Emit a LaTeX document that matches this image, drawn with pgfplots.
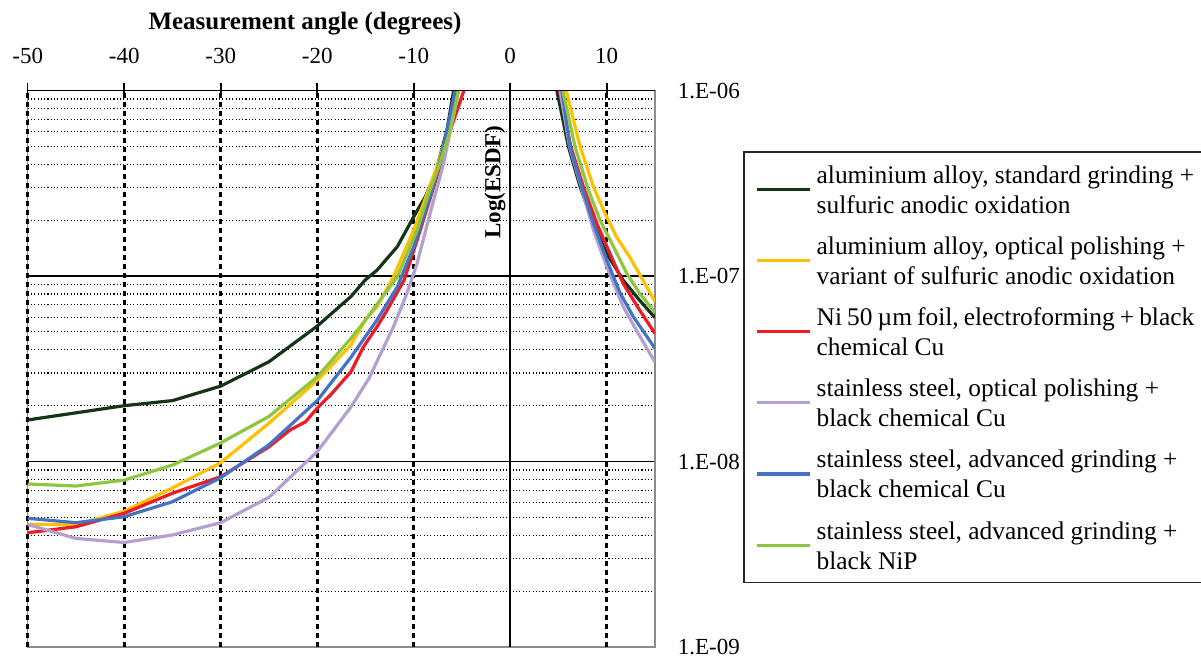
\documentclass[border=0pt]{standalone}
\usepackage{fontspec}
\setmainfont{Liberation Serif}
\usepackage{pgfplots}
\pgfplotsset{compat=1.18}
\definecolor{cdkgreen}{RGB}{22,52,24}
\definecolor{cyellow}{RGB}{255,192,0}
\definecolor{cred}{RGB}{237,28,36}
\definecolor{clav}{RGB}{179,160,208}
\definecolor{cblue}{RGB}{68,114,196}
\definecolor{cgreen}{RGB}{142,198,63}
\definecolor{cframe}{RGB}{140,140,140}
\begin{document}
\begin{tikzpicture}
\useasboundingbox (0,0) rectangle (600.5pt,329.5pt);
\begin{axis}[
  at={(13.85pt,6pt)}, anchor=south west,
  scale only axis, width=313.65pt, height=278.25pt,
  xmin=-50, xmax=15, ymode=log, ymin=1e-9, ymax=1e-6,
  axis line style={cframe, line width=0.8pt},
  xtick={-50,-40,-30,-20,-10,0,10},
  xticklabels={-50,-40,-30,-20,-10,0,10},
  extra x ticks={-50,-40,-30,-20,-10,10},
  extra x tick style={grid=major, major grid style={black, line width=1.5pt, dash pattern=on 2.5pt off 2pt}, xticklabel={}},
  xtick pos=right, xticklabel pos=right,
  tick align=center, major tick length=7.5pt,
  xtick style={black, line width=0.8pt},
  xticklabel style={anchor=base, yshift=9.75pt, inner sep=0pt},
  ytick={1e-9,1e-8,1e-7,1e-6},
  yticklabels={1.E-09,1.E-08,1.E-07,1.E-06},
  minor ytick={2e-9,3e-9,4e-9,5e-9,6e-9,7e-9,8e-9,9e-9,2e-8,3e-8,4e-8,5e-8,6e-8,7e-8,8e-8,9e-8,2e-7,3e-7,4e-7,5e-7,6e-7,7e-7,8e-7,9e-7},
  ytick pos=right, yticklabel pos=right,
  ytick style={draw=none},
  yticklabel style={anchor=west, xshift=7.5pt, inner sep=0pt},
  ymajorgrids, yminorgrids,
  major grid style={black, line width=0.75pt},
  minor grid style={black, line width=0.55pt, dash pattern=on 0.55pt off 1.1pt},
  tick label style={font=\fontsize{11.5}{14}\selectfont},
  xlabel={Measurement angle (degrees)},
  ylabel={Log(ESDF)},
  every axis x label/.style={at={(axis description cs:0.442,1.11)}, anchor=base, font=\fontsize{12.5}{15}\selectfont\bfseries},
  every axis y label/.style={at={(axis description cs:0.745,0.835)}, anchor=center, rotate=90, font=\fontsize{11.5}{14}\selectfont\bfseries},
  legend cell align=left,
  legend style={at={(1.1403,0.8913)}, anchor=north west, draw=black!85, line width=0.8pt,
    inner xsep=5.6pt, inner ysep=2.4pt, row sep=3.1pt,
    font=\fontsize{12.7}{15}\selectfont,
    cells={anchor=west, align=left},
    nodes={inner sep=2.75pt}},
  legend image code/.code={\draw[#1, line width=1.6pt] (0pt,0pt) -- (26.5pt,0pt);},
  every axis plot/.append style={line width=1.6pt},
]
% aluminium alloy, standard grinding
\addplot[cdkgreen] coordinates {
 (-50,1.675e-8) (-40,2.0e-8) (-35,2.13e-8) (-30,2.55e-8) (-25,3.45e-8)
 (-20,5.37e-8) (-16.5,7.76e-8) (-15,9.55e-8) (-13.8,1.076e-7) (-11.7,1.44e-7)
 (-9.8,2.18e-7) (-8.8,2.67e-7) (-7.75,3.58e-7) (-6.55,6.12e-7) (-5.86,1e-6)};
\addlegendentry{\strut aluminium alloy, standard grinding +\\sulfuric anodic oxidation\strut}
% aluminium alloy, optical polishing
\addplot[cyellow] coordinates {
 (-50,4.6e-9) (-45,4.55e-9) (-40,5.4e-9) (-35,7.2e-9) (-30,9.86e-9)
 (-25,1.61e-8) (-19.8,2.8e-8) (-16.5,4.25e-8) (-15,5.8e-8) (-13.8,6.84e-8)
 (-12.1,9.9e-8) (-10,1.77e-7) (-8.6,2.79e-7) (-7.6,3.89e-7) (-6.4,6.12e-7) (-5.5,1e-6)};
\addlegendentry{\strut aluminium alloy, optical polishing +\\variant of sulfuric anodic oxidation\strut}
% Ni foil
\addplot[cred] coordinates {
 (-50,4.13e-9) (-45,4.45e-9) (-40,5.26e-9) (-35,6.75e-9) (-30,8.28e-9)
 (-25,1.2e-8) (-22.8,1.48e-8) (-21.2,1.64e-8) (-20,1.94e-8) (-18.6,2.29e-8)
 (-16.5,3.05e-8) (-15.2,4.16e-8) (-13.8,5.33e-8) (-12.75,6.56e-8) (-11,9.5e-8)
 (-9.65,1.56e-7) (-7.6,3.43e-7) (-6.2,6.12e-7) (-4.8,1e-6)};
\addlegendentry{\strut{\spaceskip=0.2em plus 0.05em Ni 50 µm foil, electroforming + black}\\chemical Cu\strut}
% stainless steel, optical polishing
\addplot[clav] coordinates {
 (-50,4.58e-9) (-45,3.85e-9) (-40,3.66e-9) (-35,4.02e-9) (-30,4.68e-9)
 (-25,6.41e-9) (-20,1.13e-8) (-16.5,1.97e-8) (-14.65,2.8e-8) (-12.1,5.33e-8)
 (-10.7,8.07e-8) (-9.65,1.17e-7) (-8.3,2.18e-7) (-6.9,4.05e-7) (-5.35,1e-6)};
\addlegendentry{\strut stainless steel, optical polishing +\\black chemical Cu\strut}
% stainless steel, advanced grinding, chem Cu
\addplot[cblue] coordinates {
 (-50,4.94e-9) (-45,4.68e-9) (-40,5.04e-9) (-35,6.07e-9) (-30,8.18e-9)
 (-25,1.23e-8) (-20,2.13e-8) (-16.5,3.65e-8) (-13.8,5.8e-8) (-11.7,8.75e-8)
 (-10,1.44e-7) (-8.1,2.91e-7) (-6.9,4.98e-7) (-5.7,1e-6)};
\addlegendentry{\strut stainless steel, advanced grinding +\\black chemical Cu\strut}
% stainless steel, advanced grinding, NiP
\addplot[cgreen] coordinates {
 (-50,7.57e-9) (-45,7.38e-9) (-40,7.94e-9) (-35,9.57e-9) (-30,1.26e-8)
 (-25,1.75e-8) (-20,2.86e-8) (-16.5,4.61e-8) (-15,5.8e-8) (-11.7,9.9e-8)
 (-9.65,1.77e-7) (-8.45,2.79e-7) (-7.4,3.89e-7) (-6.2,6.12e-7) (-5.35,1e-6)};
\addlegendentry{\strut stainless steel, advanced grinding +\\black NiP\strut}
% right-hand branches
\addplot[cdkgreen, forget plot] coordinates {
 (4.83,1e-6) (6.03,4.98e-7) (7.24,3.03e-7) (8.62,1.92e-7) (10,1.32e-7)
 (11.7,9.5e-8) (13.4,7.41e-8) (15,5.96e-8)};
\addplot[cyellow, forget plot] coordinates {
 (5.8,1e-6) (7.24,4.98e-7) (8.62,3.03e-7) (9.82,2.18e-7) (11.0,1.63e-7)
 (12.36,1.27e-7) (13.75,9.5e-8) (15,7.28e-8)};
\addplot[cred, forget plot] coordinates {
 (5.1,1e-6) (6.28,4.98e-7) (7.58,3.03e-7) (8.97,1.92e-7) (10.34,1.32e-7)
 (11.7,9.12e-8) (13.4,6.56e-8) (15,4.9e-8)};
\addplot[clav, forget plot] coordinates {
 (5.17,1e-6) (6.15,4.98e-7) (7.35,3.03e-7) (8.62,1.77e-7) (10,1.12e-7)
 (11.7,6.84e-8) (13.27,4.9e-8) (15,3.43e-8)};
\addplot[cblue, forget plot] coordinates {
 (5.35,1e-6) (6.2,4.98e-7) (7.41,3.03e-7) (8.62,1.92e-7) (10,1.22e-7)
 (11.4,8.07e-8) (12.75,6.04e-8) (15,4.07e-8)};
\addplot[cgreen, forget plot] coordinates {
 (5.45,1e-6) (6.72,4.98e-7) (8.1,2.91e-7) (9.3,2.0e-7) (10.7,1.44e-7)
 (12.07,1.035e-7) (13.4,8.07e-8) (15,6.38e-8)};
\draw[black, line width=0.8pt] (axis cs:0,1e-9) -- (axis cs:0,1e-6);
\draw[black, line width=0.8pt] (rel axis cs:0,1) -- (rel axis cs:1,1);
\end{axis}
\end{tikzpicture}
\end{document}
